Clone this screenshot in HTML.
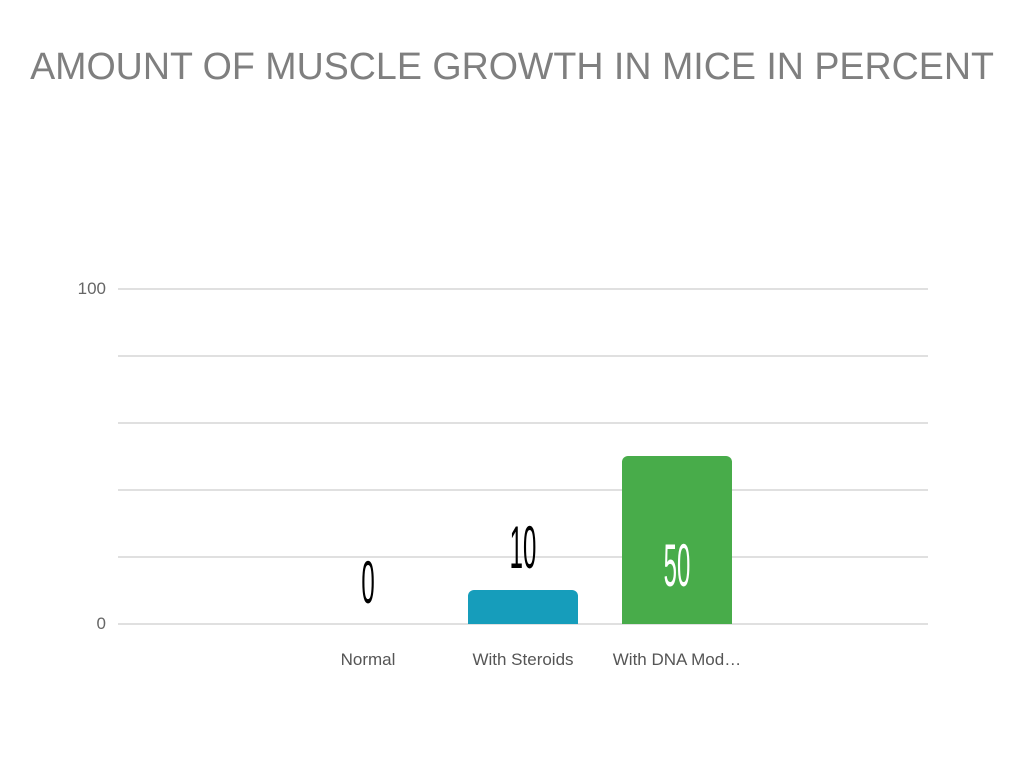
<!DOCTYPE html>
<html><head><style>
body{margin:0;width:1024px;height:768px;background:#fff;position:relative;overflow:hidden;font-family:"Liberation Sans",sans-serif}
.t{position:absolute;left:0;width:1024px;top:45px;text-align:center;font-size:37.6px;color:#7f7f7f;white-space:nowrap}
.g{position:absolute;left:118px;width:810px;height:2px;background:#e0e0e0}
.y{position:absolute;font-size:17px;color:#666;width:60px;text-align:right;left:46px}
.x{position:absolute;font-size:17px;color:#555;width:200px;text-align:center;top:650px}
.n{position:absolute;font-size:60px;line-height:60px;width:100px;text-align:center;transform:scaleX(0.4);color:#000}
.b{position:absolute;border-radius:6px 6px 0 0}
</style></head><body>
<div class="t">AMOUNT OF MUSCLE GROWTH IN MICE IN PERCENT</div>
<div class="g" style="top:288px"></div>
<div class="g" style="top:355px"></div>
<div class="g" style="top:422px"></div>
<div class="g" style="top:489px"></div>
<div class="g" style="top:556px"></div>
<div class="g" style="top:623px"></div>
<div class="y" style="top:279px">100</div>
<div class="y" style="top:614px">0</div>
<div class="b" style="left:468px;top:590px;width:110px;height:34px;background:#169dbb"></div>
<div class="b" style="left:622px;top:456px;width:110px;height:168px;background:#48ac4a"></div>
<div class="n" style="left:318px;top:553px">0</div>
<div class="n" style="left:473px;top:518px">10</div>
<div class="n" style="left:627px;top:536px;color:#fff">50</div>
<div class="x" style="left:268px">Normal</div>
<div class="x" style="left:423px">With Steroids</div>
<div class="x" style="left:577px">With DNA Mod…</div>
</body></html>
